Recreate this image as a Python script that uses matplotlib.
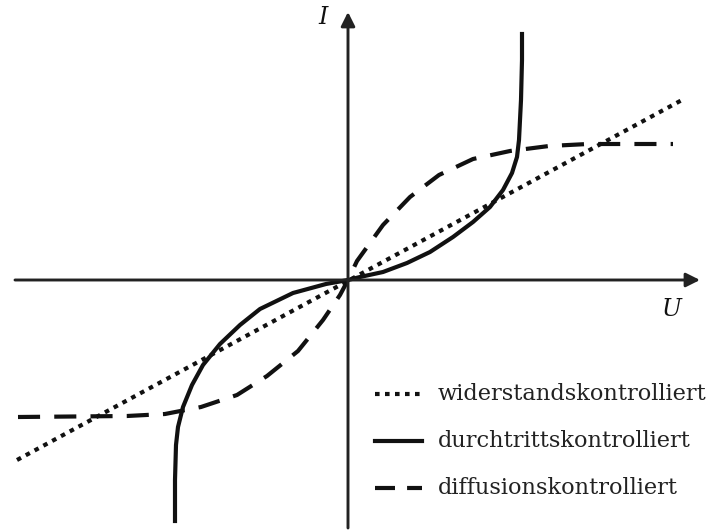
import matplotlib.pyplot as plt

# Strom-Spannungs-Kennlinien (U, I in willkuerlichen Einheiten)
dotted_u = [-3.31, 3.34]
dotted_i = [-1.80, 1.80]

solid_u = [-1.73, -1.73, -1.72, -1.70, -1.65, -1.56, -1.45, -1.28, -1.08, -0.88, -0.55, -0.22, 0.0,
           0.12, 0.35, 0.59, 0.82, 1.05, 1.25, 1.42, 1.55, 1.64, 1.69, 1.71, 1.73, 1.74, 1.74]
solid_i = [-2.41, -2.00, -1.65, -1.47, -1.27, -1.05, -0.85, -0.64, -0.45, -0.29, -0.13, -0.04, 0.0,
           0.03, 0.08, 0.17, 0.28, 0.43, 0.58, 0.73, 0.90, 1.07, 1.23, 1.40, 1.80, 2.20, 2.46]

dashed_u = [-3.30, -2.21, -1.83, -1.47, -1.11, -0.81, -0.50, -0.25, -0.08, 0.0,
            0.09, 0.35, 0.62, 0.91, 1.25, 1.62, 2.01, 2.40, 3.25]
dashed_i = [-1.37, -1.36, -1.34, -1.27, -1.15, -0.96, -0.71, -0.40, -0.15, 0.0,
            0.19, 0.55, 0.83, 1.05, 1.21, 1.29, 1.34, 1.36, 1.36]

labels = ["widerstandskontrolliert", "durchtrittskontrolliert", "diffusionskontrolliert"]

ink = "#111111"
axis_col = "#222222"
lw = 3.0
dot_style = (0, (1.1, 1.3))
dash_style = (0, (5.3, 3.4))
key_dash = (0, (4.8, 2.9))

fig = plt.figure(figsize=(7.13, 5.30), dpi=100)
ax = fig.add_axes([0, 0, 1, 1])
ax.set_xlim(-3.48, 3.65)
ax.set_ylim(-2.50, 2.80)
ax.axis("off")

# Koordinatenachsen mit Pfeilspitzen
arrow = dict(arrowstyle="-|>,head_length=0.6,head_width=0.3", mutation_scale=14,
             lw=2.1, color=axis_col, shrinkA=0, shrinkB=0)
ax.annotate("", xy=(3.52, 0), xytext=(-3.33, 0), arrowprops=arrow)
ax.annotate("", xy=(0, 2.68), xytext=(0, -2.48), arrowprops=arrow)
ax.text(-0.25, 2.62, "I", fontsize=17, family="DejaVu Serif", style="italic",
        ha="center", va="center", color=ink)
ax.text(3.24, -0.29, "U", fontsize=17, family="DejaVu Serif", style="italic",
        ha="center", va="center", color=ink)

ax.plot(dotted_u, dotted_i, color=ink, lw=lw, linestyle=dot_style)
ax.plot(solid_u, solid_i, color=ink, lw=lw, solid_joinstyle="round")
ax.plot(dashed_u, dashed_i, color=ink, lw=lw, linestyle=dash_style)

# Legende
styles = [dot_style, "-", key_dash]
rows_y = [-1.14, -1.61, -2.08]
for style, y, label in zip(styles, rows_y, labels):
    ax.plot([0.27, 0.74], [y, y], color=ink, lw=lw, linestyle=style)
    ax.text(0.90, y, label, fontsize=16.2, family="DejaVu Serif", ha="left",
            va="center", color="#222222")

fig.savefig("out.png", dpi=100)
